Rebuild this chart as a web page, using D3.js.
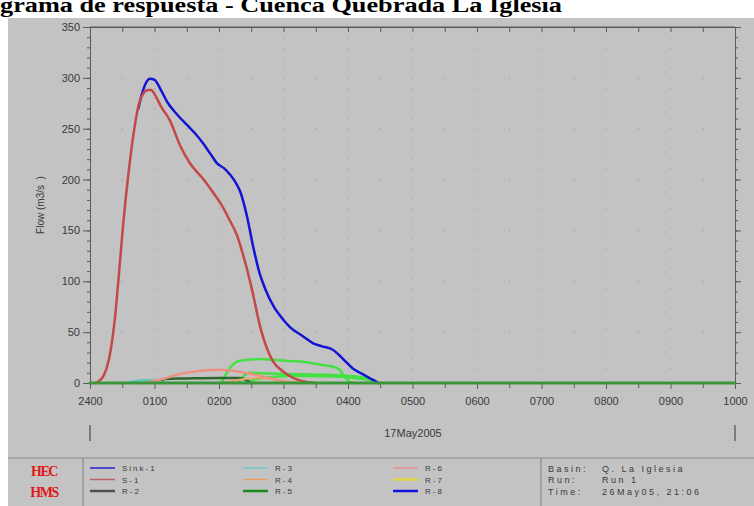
<!DOCTYPE html>
<html><head><meta charset="utf-8">
<script src="https://cdn.jsdelivr.net/npm/d3@7"></script>
<style>body{margin:0;background:#fff}svg{display:block}</style>
</head><body>
<svg id="c" width="754" height="506"></svg>
<script>
const titleText = "grama de respuesta - Cuenca Quebrada La Iglesia";
const xTickHours = [0,1,2,3,4,5,6,7,8,9,10];
const xTickLabels = ["2400","0100","0200","0300","0400","0500","0600","0700","0800","0900","1000"];
const yTicks = [0,50,100,150,200,250,300,350];
const dateLabel = "17May2005";
const yLabel = "Flow (m3/s  )";

// [hour, flow] pairs
const sink1 = [[0.75,270],[0.8,283],[0.86,294],[0.93,299],[1.0,298],[1.1,288],[1.2,276],[1.35,264],[1.5,254],[1.62,246],[1.75,236],[1.87,225],[1.97,216],[2.08,211],[2.17,205],[2.25,198],[2.33,188],[2.43,165],[2.53,134],[2.62,110],[2.72,92],[2.85,75],[3.0,62],[3.1,55],[3.3,46],[3.46,39],[3.6,36],[3.77,32.5],[3.87,27],[3.98,20],[4.08,14],[4.19,10],[4.3,6],[4.39,3],[4.47,0]];
const s1 = [[0.08,0],[0.13,1.5],[0.2,6],[0.26,15],[0.32,32],[0.38,60],[0.45,108],[0.52,160],[0.6,208],[0.68,247],[0.75,272],[0.82,284],[0.9,288],[0.95,288],[1.0,284],[1.1,272],[1.24,258],[1.4,233],[1.55,216],[1.75,201],[1.9,188],[2.02,177],[2.15,162],[2.28,145],[2.4,120],[2.5,95],[2.64,55],[2.75,33],[2.84,21],[3.0,11],[3.15,5],[3.36,1],[3.5,0]];
const r2 = [[1.1,0],[1.15,4],[1.5,4.5],[2.0,5],[2.33,5],[2.45,2],[2.5,0]];
const r3 = [[0.55,0],[0.7,2],[0.85,3],[1.0,2.5],[1.15,0.5],[1.3,0]];
const r4 = [[2.0,0],[2.3,3],[2.6,5],[2.9,3],[3.2,0]];
const r5 = [[0,0],[10,0]];
const r6 = [[0.8,0],[1.0,2],[1.24,6],[1.4,9],[1.6,11],[1.8,12.5],[2.02,13],[2.2,12],[2.4,10],[2.64,7],[2.9,3],[3.15,0.5],[3.3,0]];
const r7 = [[2.0,0],[2.06,3],[2.12,10],[2.2,17],[2.28,21],[2.4,22.5],[2.64,23.5],[2.9,22.5],[3.15,21.5],[3.4,20],[3.6,17.7],[3.77,16],[3.87,13],[3.95,6],[4.03,1],[4.1,0]];
const r8 = [[2.3,0],[2.36,5],[2.48,10],[2.7,9.5],[2.9,9],[3.3,8.5],[3.67,8],[4.0,7],[4.19,6],[4.39,3],[4.47,0]];
const r9 = [[2.4,0],[2.53,3],[2.84,6],[3.1,7],[3.41,7],[3.7,6.5],[3.92,6],[4.15,4.5],[4.34,3],[4.45,0]];

const plotted = [
  {d:r9, c:"#44e044", w:2.5},
  {d:r8, c:"#44e044", w:2.5},
  {d:r7, c:"#44e044", w:2.5},
  {d:r2, c:"#2c6a2c", w:2.5},
  {d:r3, c:"#50c8c0", w:2},
  {d:r4, c:"#e8a070", w:2},
  {d:r6, c:"#ec9080", w:2.5},
  {d:sink1, c:"#1414d4", w:2.5},
  {d:s1, c:"#c44848", w:2.5},
  {d:r5, c:"#3a963a", w:3}
];

const legendNames = ["Sink-1","S-1","R-2","R-3","R-4","R-5","R-6","R-7","R-8"];
const legendColors = ["#2020d0","#c06060","#505050","#70c8c0","#e8a060","#1a8a1a","#e89090","#e0d840","#1010e0"];
const legendWidths = [1.5,1.5,2.5,1.5,1.5,2.5,1.5,2.5,2.5];
const infoLabels = ["Basin:","Run:","Time:"];
const infoValues = ["Q. La Iglesia","Run 1","26May05, 21:06"];

const svg = d3.select("#c");
svg.append("rect").attr("x",8).attr("y",18).attr("width",746).attr("height",488).attr("fill","#c3c3c3");
svg.append("text").attr("x",0).attr("y",12).attr("font-family","Liberation Serif, Times New Roman, serif")
  .attr("font-weight","bold").attr("font-size",20).attr("textLength",562).attr("lengthAdjust","spacingAndGlyphs")
  .attr("fill","#000").text(titleText);

const x = d3.scaleLinear().domain([0,10]).range([90,735]);
const y = d3.scaleLinear().domain([0,350]).range([383,27]);
const axisColor = "#5a5a5a";
const font = "Liberation Sans, Arial, sans-serif";

// grid dots
const g = svg.append("g");
xTickHours.slice(1,-1).forEach(h=>{
  g.append("line").attr("x1",x(h)).attr("x2",x(h)).attr("y1",y(0)-4).attr("y2",y(350)).attr("stroke","#9c9c9c")
   .attr("stroke-width",1).attr("stroke-dasharray","1,9");
});
yTicks.slice(1,-1).forEach(v=>{
  d3.range(0.5,10,1).forEach(h=>{
    g.append("rect").attr("x",x(h)-0.5).attr("y",y(v)-0.5).attr("width",1.2).attr("height",1.2).attr("fill","#9c9c9c");
  });
});

// axes
const xAx = d3.axisBottom(x).tickValues(xTickHours).tickFormat((d,i)=>xTickLabels[i]).tickSize(6).tickPadding(8);
svg.append("g").attr("transform",`translate(0,${y(0)})`).call(xAx);
const xMinor = d3.axisBottom(x).tickValues(d3.range(0.5,10,1)).tickFormat("").tickSize(5);
svg.append("g").attr("transform",`translate(0,${y(0)})`).call(xMinor);
const xTop = d3.axisBottom(x).tickValues(d3.range(0,10.01,0.5)).tickFormat("").tickSize(5);
svg.append("g").attr("transform",`translate(0,${y(350)})`).call(xTop);
const yAx = d3.axisLeft(y).tickValues(yTicks).tickSize(7).tickPadding(3);
svg.append("g").attr("transform",`translate(${x(0)},0)`).call(yAx);
const yMinor = d3.axisLeft(y).tickValues(d3.range(0,351,10)).tickFormat("").tickSize(3);
svg.append("g").attr("transform",`translate(${x(0)},0)`).call(yMinor);
const yRight = d3.axisRight(y).tickValues(d3.range(0,351,10)).tickFormat("").tickSize(3);
svg.append("g").attr("transform",`translate(${x(10)},0)`).call(yRight);
const yRightMaj = d3.axisRight(y).tickValues(yTicks).tickFormat("").tickSize(6);
svg.append("g").attr("transform",`translate(${x(10)},0)`).call(yRightMaj);
svg.selectAll(".domain").attr("stroke",axisColor);
svg.selectAll(".tick line").attr("stroke",axisColor);
svg.selectAll(".tick text").attr("fill","#3a3a3a").attr("font-family",font).attr("font-size",11);
svg.append("line").attr("x1",x(0)).attr("x2",x(10)).attr("y1",y(350)).attr("y2",y(350)).attr("stroke",axisColor);

svg.append("text").attr("transform",`translate(44,205) rotate(-90)`).attr("text-anchor","middle")
  .attr("font-family",font).attr("font-size",10).attr("fill","#3a3a3a").attr("xml:space","preserve").text(yLabel);

// series
const line = d3.line().x(d=>x(d[0])).y(d=>y(d[1])).curve(d3.curveMonotoneX);
plotted.forEach(s=>{
  svg.append("path").attr("d",line(s.d)).attr("fill","none").attr("stroke",s.c).attr("stroke-width",s.w)
    .attr("stroke-linejoin","round").attr("stroke-linecap","round");
});

// date row
svg.append("text").attr("x",413).attr("y",437).attr("text-anchor","middle").attr("font-family",font)
  .attr("font-size",11).attr("fill","#3a3a3a").text(dateLabel);
[0,10].forEach(h=>{
  svg.append("line").attr("x1",x(h)).attr("x2",x(h)).attr("y1",425).attr("y2",441).attr("stroke","#555").attr("stroke-width",1.3);
});

// legend panel
svg.append("line").attr("x1",8).attr("x2",754).attr("y1",458).attr("y2",458).attr("stroke","#8a8a8a").attr("stroke-width",1.2);
svg.append("line").attr("x1",83).attr("x2",83).attr("y1",458).attr("y2",506).attr("stroke","#8a8a8a").attr("stroke-width",1.2);
svg.append("line").attr("x1",541).attr("x2",541).attr("y1",458).attr("y2",506).attr("stroke","#8a8a8a").attr("stroke-width",1.2);
svg.append("text").attr("x",44).attr("y",476).attr("text-anchor","middle").attr("font-family","Liberation Serif, serif")
  .attr("font-weight","bold").attr("font-size",14).attr("fill","#e01818").attr("letter-spacing",-1.5).text("HEC");
svg.append("text").attr("x",44).attr("y",497).attr("text-anchor","middle").attr("font-family","Liberation Serif, serif")
  .attr("font-weight","bold").attr("font-size",14).attr("fill","#e01818").attr("letter-spacing",-1.5).text("HMS");

const colX = [90,243,393];
const rowY = [468,479.5,491];
legendNames.forEach((n,i)=>{
  const cx = colX[Math.floor(i/3)], cy = rowY[i%3];
  svg.append("line").attr("x1",cx).attr("x2",cx+25).attr("y1",cy).attr("y2",cy).attr("stroke",legendColors[i]).attr("stroke-width",legendWidths[i]);
  svg.append("text").attr("x",cx+32).attr("y",cy+3).attr("font-family",font).attr("font-size",8)
    .attr("letter-spacing",2).attr("fill","#3a3a3a").text(n);
});
infoLabels.forEach((l,i)=>{
  svg.append("text").attr("x",548).attr("y",rowY[i]+3.5).attr("font-family",font).attr("font-size",9)
    .attr("letter-spacing",2.5).attr("fill","#3a3a3a").text(l);
  svg.append("text").attr("x",602).attr("y",rowY[i]+3.5).attr("font-family",font).attr("font-size",9)
    .attr("letter-spacing",2.5).attr("xml:space","preserve").attr("fill","#3a3a3a").text(infoValues[i]);
});
</script>
</body></html>
